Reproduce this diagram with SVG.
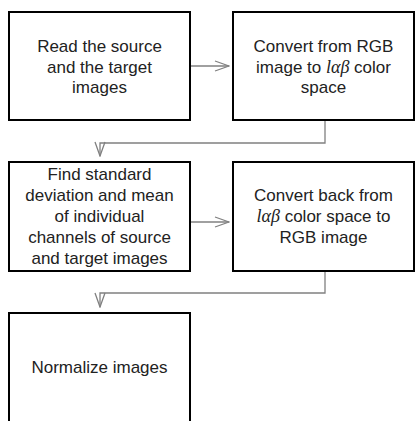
<svg xmlns="http://www.w3.org/2000/svg" width="415" height="421" viewBox="0 0 415 421">
  <style>
    .box { fill: #ffffff; stroke: #000000; stroke-width: 2; }
    .wire { fill: none; stroke: #808080; stroke-width: 1.3; }
    .label { font-family: "Liberation Sans", Arial, sans-serif; font-size: 17px; fill: #222222; text-anchor: middle; }
    .math { font-family: "Liberation Serif", "DejaVu Serif", serif; font-style: italic; font-size: 18px; }
  </style>
  <defs>
    <marker id="vee" viewBox="0 0 16 12" refX="15" refY="6" markerWidth="16" markerHeight="12" markerUnits="userSpaceOnUse" orient="auto">
      <path d="M1,1 L15,6 L1,11" fill="none" stroke="#808080" stroke-width="1.3"/>
    </marker>
  </defs>
  <rect width="415" height="421" fill="#ffffff"/>

  <g id="connectors">
    <line class="wire" x1="190" y1="66" x2="229" y2="66" marker-end="url(#vee)"/>
    <polyline class="wire" points="325,121 325,143 100,143 100,156" marker-end="url(#vee)"/>
    <line class="wire" x1="190" y1="222" x2="229" y2="222" marker-end="url(#vee)"/>
    <polyline class="wire" points="325,272 325,293 100,293 100,307" marker-end="url(#vee)"/>
  </g>

  <g id="read-images">
    <rect class="box" x="9" y="12" width="181" height="108"/>
    <text class="label" x="99.5" y="52">Read the source</text>
    <text class="label" x="99.5" y="72.5">and the target</text>
    <text class="label" x="99.5" y="93">images</text>
  </g>

  <g id="rgb-to-lab">
    <rect class="box" x="233" y="12" width="181" height="108"/>
    <text class="label" x="323.5" y="52">Convert from RGB</text>
    <text class="label" x="323.5" y="72.5">image to <tspan class="math">lαβ</tspan> color</text>
    <text class="label" x="323.5" y="93">space</text>
  </g>

  <g id="statistics">
    <rect class="box" x="9" y="162" width="181" height="109"/>
    <text class="label" x="99.5" y="180">Find standard</text>
    <text class="label" x="99.5" y="201">deviation and mean</text>
    <text class="label" x="99.5" y="222">of individual</text>
    <text class="label" x="99.5" y="243">channels of source</text>
    <text class="label" x="99.5" y="264">and target images</text>
  </g>

  <g id="lab-to-rgb">
    <rect class="box" x="233" y="162" width="181" height="109"/>
    <text class="label" x="323.5" y="201">Convert back from</text>
    <text class="label" x="323.5" y="222"><tspan class="math">lαβ</tspan> color space to</text>
    <text class="label" x="323.5" y="242.5">RGB image</text>
  </g>

  <g id="normalize">
    <rect class="box" x="9" y="313" width="181" height="120"/>
    <text class="label" x="99.5" y="373">Normalize images</text>
  </g>
</svg>
